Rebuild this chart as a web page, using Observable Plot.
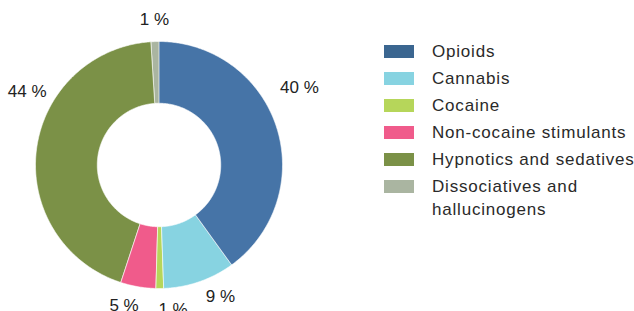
<!DOCTYPE html>
<html>
<head>
<meta charset="utf-8">
<script src="https://cdn.jsdelivr.net/npm/d3@7"></script>
<script src="https://cdn.jsdelivr.net/npm/@observablehq/plot@0.6"></script>
<style>
  html, body { margin: 0; padding: 0; background: #fff; }
  #wrap { position: relative; width: 634px; height: 311px; overflow: hidden; }
  #legend { position: absolute; left: 384px; top: 40px; font-family: "Liberation Sans", Arial, sans-serif; font-size: 17px; letter-spacing: 0.8px; color: #2a2a2a; }
  .row { display: flex; align-items: flex-start; min-height: 27px; }
  .sw { width: 30px; height: 13px; margin-top: 5px; margin-right: 18px; flex: none; }
  .lab { line-height: 23px; width: 240px; }
</style>
</head>
<body>
<div id="wrap"><div id="chart"></div><div id="legend"></div></div>
<script>
const categories = ["Opioids", "Cannabis", "Cocaine", "Non-cocaine stimulants", "Hypnotics and sedatives", "Dissociatives and hallucinogens"];
const shares = [40.0, 9.4, 1.0, 4.6, 43.9, 1.0];
const colors = ["#4674a7", "#87d3e1", "#b6d65a", "#f05b8b", "#7b9147", "#aab5a1"];
const legendColors = ["#3b6690", "#87d3e1", "#b6d65a", "#f05b8b", "#7b9147", "#aab5a1"];

const W = 634, H = 311;
const cx = 158.5, cy = 164.5, R = 123.5; // pixel layout of the donut
const inner = 0.5; // inner radius as fraction of outer

const total = d3.sum(shares);
const slices = [];
let acc = 0;
categories.forEach((c, i) => {
  const a0 = acc / total * 2 * Math.PI;
  acc += shares[i];
  const a1 = acc / total * 2 * Math.PI;
  slices.push({cat: c, value: shares[i], a0, a1, i});
});

// polygon points for each ring segment (units of outer radius)
const pts = [];
for (const s of slices) {
  const n = Math.max(4, Math.ceil((s.a1 - s.a0) / 0.01));
  for (let k = 0; k <= n; k++) {
    const a = s.a0 + (s.a1 - s.a0) * k / n;
    pts.push({cat: s.cat, x: Math.sin(a), y: Math.cos(a)});
  }
  for (let k = n; k >= 0; k--) {
    const a = s.a0 + (s.a1 - s.a0) * k / n;
    pts.push({cat: s.cat, x: inner * Math.sin(a), y: inner * Math.cos(a)});
  }
}

// label angles: mid-angle, large slices lifted to the upper shoulders,
// small neighbouring labels spread apart to avoid overlap
const deg = Math.PI / 180;
const lab = slices.map(s => ({s, a: (s.a0 + s.a1) / 2, big: s.value > 25}));
for (const l of lab) {
  if (l.big) {
    const lim = 61 * deg;
    l.a = l.a < Math.PI ? Math.min(l.a, lim) : Math.max(l.a, 2 * Math.PI - lim);
  }
}
const small = lab.filter(l => !l.big && l.a > Math.PI / 2 && l.a < 3 * Math.PI / 2).sort((p, q) => p.a - q.a);
const meanBefore = d3.mean(small, l => l.a);
const minSep = 19.5 * deg;
for (let it = 0; it < 200; it++) {
  for (let k = 0; k + 1 < small.length; k++) {
    const d = small[k + 1].a - small[k].a;
    if (d < minSep) {
      const m = (minSep - d) / 2;
      small[k].a -= m; small[k + 1].a += m;
    }
  }
}
const shift = meanBefore - 2.5 * deg - d3.mean(small, l => l.a);
for (const l of small) l.a += shift;
const labels = lab.map(l => {
  const r = l.big ? (l.a < Math.PI ? 1.30 : 1.22) : 1.175;
  return {text: Math.round(l.s.value) + " %", x: r * Math.sin(l.a), y: r * Math.cos(l.a)};
});

const chart = Plot.plot({
  width: W, height: H,
  margin: 0,
  x: {domain: [-cx / R, (W - cx) / R], axis: null},
  y: {domain: [-(H - cy) / R, cy / R], axis: null},
  color: {domain: categories, range: colors},
  style: {fontFamily: "'Liberation Sans Narrow', 'Liberation Sans', Arial, sans-serif", background: "transparent", overflow: "visible"},
  marks: [
    Plot.line(pts, {x: "x", y: "y", z: "cat", fill: "cat", stroke: "white", strokeWidth: 0.6, curve: "linear-closed"}),
    Plot.text(labels, {x: "x", y: "y", text: "text", fontSize: 17, fill: "#222"})
  ]
});
document.getElementById("chart").appendChild(chart);

const leg = document.getElementById("legend");
categories.forEach((c, i) => {
  const row = document.createElement("div");
  row.className = "row";
  const sw = document.createElement("div");
  sw.className = "sw";
  sw.style.background = legendColors[i];
  const t = document.createElement("div");
  t.className = "lab";
  t.textContent = c;
  row.appendChild(sw); row.appendChild(t);
  leg.appendChild(row);
});
</script>
</body>
</html>
